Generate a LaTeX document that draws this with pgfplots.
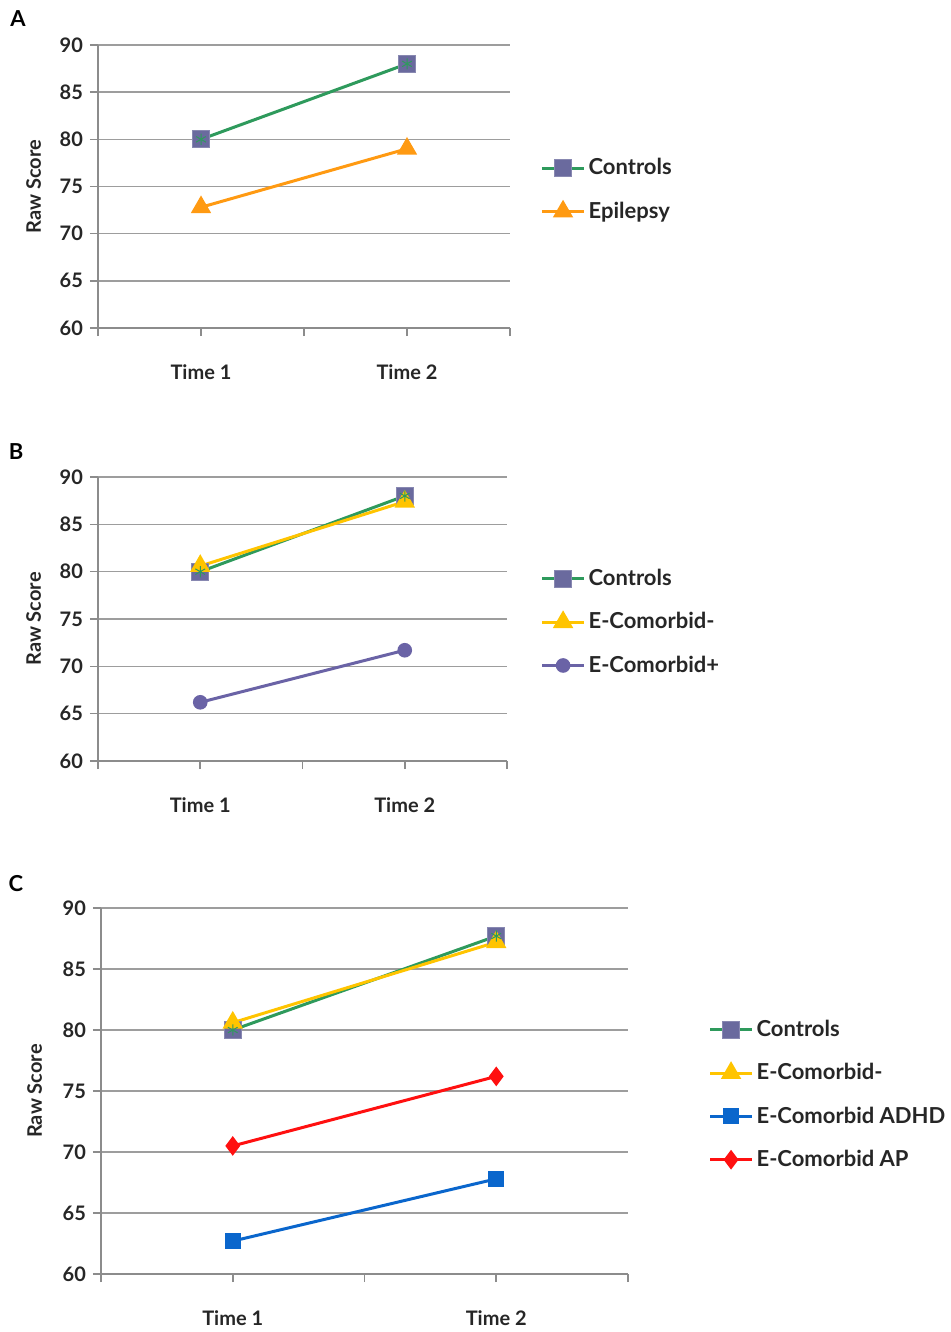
\documentclass[border=0pt]{standalone}
\usepackage{pgfplots}
\pgfplotsset{compat=1.18}
\usepackage{fontspec}
\setmainfont{Lato}
\definecolor{ctrlgreen}{HTML}{2E9A5C}
\definecolor{ctrlfill}{HTML}{6A6A9E}
\definecolor{epiorange}{HTML}{FF9A12}
\definecolor{comyellow}{HTML}{FFC400}
\definecolor{compurple}{HTML}{6A63A6}
\definecolor{adhdblue}{HTML}{0A66CC}
\definecolor{apred}{HTML}{FF1010}
\definecolor{axgray}{HTML}{8C8C8C}
\pgfplotsset{
  panel/.style={
    scale only axis,
    anchor=south west,
    axis lines=left,
    axis line style={-, draw=axgray, line width=0.8pt},
    xmin=0.5, xmax=2.5, ymin=60, ymax=90,
    ytick={60,65,...,90},
    xtick={0.5,1,1.5,2,2.5},
    xticklabels={,Time 1,,Time 2,},
    tick align=outside,
    major tick length=4pt,
    tick style={draw=axgray, line width=0.8pt},
    ymajorgrids,
    grid style={draw=axgray!85, line width=0.8pt},
    ticklabel style={font=\fontsize{10}{12}\selectfont\bfseries, text=black!85},
    /pgf/number format/assume math mode=true,
    xticklabel style={yshift=-11pt},
    ylabel={Raw Score},
    ylabel style={font=\fontsize{10}{12}\selectfont\bfseries, text=black!85},
    legend cell align=left,
    legend style={draw=none, fill=none, inner sep=0pt, anchor=west,
      font=\fontsize{11}{12}\selectfont\bfseries, text=black!85,
      row sep=9pt, nodes={inner sep=1.5pt}},
    legend image code/.code={
      \draw[mark repeat=2,mark phase=2] plot coordinates {(0cm,0cm)(0.37cm,0cm)(0.74cm,0cm)};},
    clip=false,
  },
  ctrl/.style={color=ctrlgreen, line width=1.5pt, mark=square*, mark size=4.3pt,
    mark options={fill=ctrlfill, draw=ctrlfill!80!white, line width=0.5pt}},
  ctrlstar/.style={draw=none, mark=asterisk, mark size=2.8pt, mark options={draw=ctrlgreen, line width=0.5pt}, forget plot},
}
\begin{document}
\begin{tikzpicture}[x=0.5pt,y=-0.5pt]
\useasboundingbox (0,0) rectangle (951,1332);
\coordinate (PA) at (98,328);
\coordinate (PB) at (98,761);
\coordinate (PC) at (101,1274);
\node[font=\fontsize{11}{13}\selectfont\bfseries, anchor=center] at (18,19) {A};
\node[font=\fontsize{11}{13}\selectfont\bfseries, anchor=center] at (16,452) {B};
\node[font=\fontsize{11}{13}\selectfont\bfseries, anchor=center] at (16,884) {C};

% Panel A
\begin{axis}[panel, at={(PA)}, width=206pt, height=141.5pt,
  ylabel style={yshift=2.5pt},
  legend style={at={(1.073,0.488)}}]
\addplot[ctrl] coordinates {(1,80) (2,88)};
\addlegendentry{Controls}
\addplot[color=epiorange, line width=1.5pt, mark=triangle*, mark size=4.4pt,
  mark options={fill=epiorange, draw=epiorange}] coordinates {(1,72.8) (2,79.0)};
\addlegendentry{Epilepsy}
\addplot[ctrlstar] coordinates {(1,80) (2,88)};
\end{axis}

% Panel B
\begin{axis}[panel, at={(PB)}, width=204.5pt, height=142pt,
  ylabel style={yshift=2.5pt},
  legend style={at={(1.081,0.489)}}]
\addplot[ctrl] coordinates {(1,80) (2,88)};
\addlegendentry{Controls}
\addplot[color=comyellow, line width=1.5pt, mark=triangle*, mark size=4.4pt,
  mark options={fill=comyellow, draw=comyellow}] coordinates {(1,80.6) (2,87.4)};
\addlegendentry{E-Comorbid-}
\addplot[color=compurple, line width=1.5pt, mark=*, mark size=2.9pt,
  mark options={fill=compurple, draw=compurple}] coordinates {(1,66.2) (2,71.7)};
\addlegendentry{E-Comorbid+}
\addplot[ctrlstar] coordinates {(1,80) (2,88)};
\end{axis}

% Panel C
\begin{axis}[panel, at={(PC)}, width=263.5pt, height=183pt,
  ylabel style={yshift=3.5pt},
  legend style={at={(1.152,0.490)}}]
\addplot[ctrl] coordinates {(1,80) (2,87.7)};
\addlegendentry{Controls}
\addplot[color=comyellow, line width=1.5pt, mark=triangle*, mark size=4.4pt,
  mark options={fill=comyellow, draw=comyellow}] coordinates {(1,80.6) (2,87.2)};
\addlegendentry{E-Comorbid-}
\addplot[color=adhdblue, line width=1.5pt, mark=square*, mark size=3.3pt,
  mark options={fill=adhdblue, draw=adhdblue}] coordinates {(1,62.7) (2,67.8)};
\addlegendentry{E-Comorbid ADHD}
\addplot[color=apred, line width=1.5pt, mark=diamond*, mark size=3.7pt,
  mark options={fill=apred, draw=apred}] coordinates {(1,70.5) (2,76.2)};
\addlegendentry{E-Comorbid AP}
\addplot[ctrlstar] coordinates {(1,80) (2,87.7)};
\end{axis}
\end{tikzpicture}
\end{document}
